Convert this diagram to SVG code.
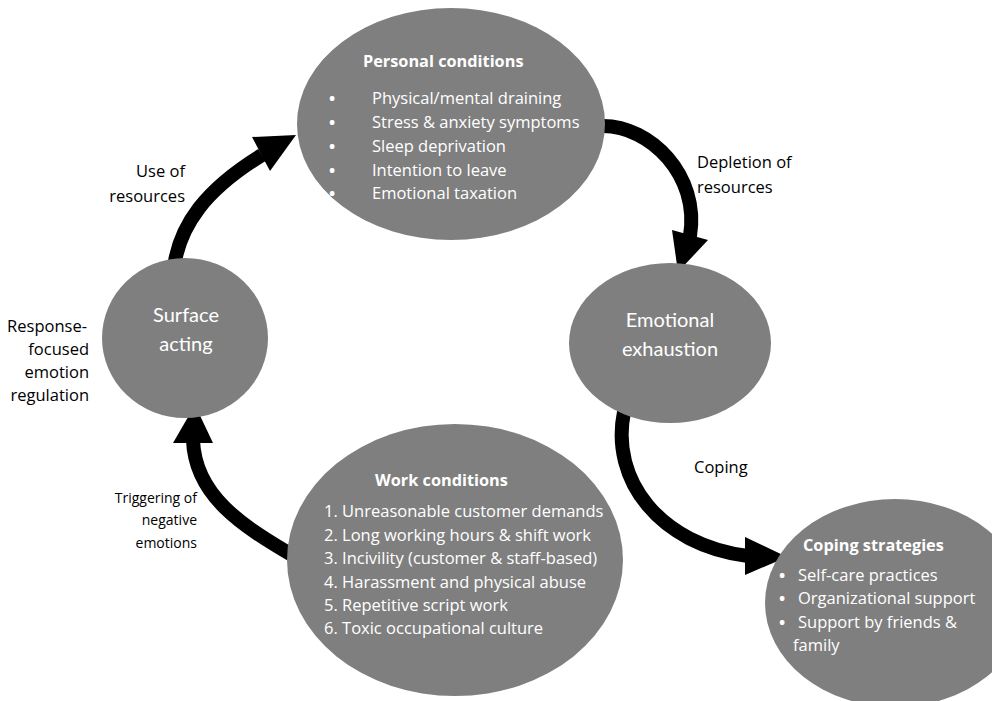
<svg xmlns="http://www.w3.org/2000/svg" width="992" height="701" viewBox="0 0 992 701">
<style>
.node{fill:#7f7f7f}
.w{fill:#ffffff;font-family:"Open Sans","Noto Sans",sans-serif;font-size:16.5px}
.b{font-weight:bold;text-anchor:middle}
.wt{fill:#ffffff;font-family:"Open Sans","Noto Sans",sans-serif;font-size:16.3px;font-weight:bold}
.c{fill:#ffffff;font-family:Lato,"Open Sans",sans-serif;font-size:20px;text-anchor:middle}
.lbl{fill:#000000;font-family:"Open Sans","Noto Sans",sans-serif;font-size:16.5px}
.sm{fill:#000000;font-family:"Open Sans","Noto Sans",sans-serif;font-size:14px}
.shaft{fill:none;stroke:#000;stroke-width:14}
.head{fill:#000}
</style>
<rect width="992" height="701" fill="#ffffff"/>
<g id="connectors">
  <g id="use-of-resources">
    <path class="shaft" d="M174,267 C180,225 205,190 262,155"/>
    <polygon class="head" points="252,137 296,135 270,171"/>
  </g>
  <g id="depletion">
    <path class="shaft" d="M603,126 C650,126 700,175 690,236"/>
    <polygon class="head" points="672,230 708,240 678,272"/>
  </g>
  <g id="coping">
    <path class="shaft" d="M624,412 C610,480 660,545 748,556"/>
    <polygon class="head" points="745,537 787,557 745,575"/>
  </g>
  <g id="triggering">
    <path class="shaft" d="M297,558 C240,525 195,495 193,440"/>
    <polygon class="head" points="173,443 213,443 195,405"/>
  </g>
</g>
<g id="personal-conditions">
  <ellipse class="node" cx="451" cy="124" rx="154" ry="116"/>
  <text class="wt" x="363" y="67">Personal conditions</text>
  <g class="w">
    <text class="b" x="332" y="104">•</text>
    <text class="b" x="332" y="128">•</text>
    <text class="b" x="332" y="152">•</text>
    <text class="b" x="332" y="176">•</text>
    <text class="b" x="332" y="199">•</text>
    <text x="372" y="104">Physical/mental draining</text>
    <text x="372" y="128">Stress &amp; anxiety symptoms</text>
    <text x="372" y="152">Sleep deprivation</text>
    <text x="372" y="176">Intention to leave</text>
    <text x="372" y="199">Emotional taxation</text>
  </g>
</g>
<g id="surface-acting">
  <ellipse class="node" cx="185" cy="338" rx="83" ry="80"/>
  <text class="c" x="186" y="322">Surface</text>
  <text class="c" x="186" y="351">acting</text>
</g>
<g id="emotional-exhaustion">
  <ellipse class="node" cx="670" cy="343" rx="101" ry="80"/>
  <text class="c" x="670" y="327">Emotional</text>
  <text class="c" x="670" y="356">exhaustion</text>
</g>
<g id="work-conditions">
  <ellipse class="node" cx="455" cy="560" rx="168" ry="136"/>
  <text class="wt" x="375" y="486">Work conditions</text>
  <g class="w">
    <text x="324" y="517">1. Unreasonable customer demands</text>
    <text x="324" y="541">2. Long working hours &amp; shift work</text>
    <text x="324" y="564">3. Incivility (customer &amp; staff-based)</text>
    <text x="324" y="588">4. Harassment and physical abuse</text>
    <text x="324" y="611">5. Repetitive script work</text>
    <text x="324" y="634">6. Toxic occupational culture</text>
  </g>
</g>
<g id="coping-strategies">
  <ellipse class="node" cx="895" cy="603" rx="130" ry="104"/>
  <text class="wt" x="803" y="551">Coping strategies</text>
  <g class="w">
    <text class="b" x="782" y="581">•</text>
    <text class="b" x="782" y="604">•</text>
    <text class="b" x="782" y="628">•</text>
    <text x="798" y="581">Self-care practices</text>
    <text x="798" y="604">Organizational support</text>
    <text x="798" y="628">Support by friends &amp;</text>
    <text x="793" y="651">family</text>
  </g>
</g>
<g id="labels">
  <text class="lbl" x="185" y="177" text-anchor="end">Use of</text>
  <text class="lbl" x="185" y="202" text-anchor="end">resources</text>
  <text class="lbl" x="697" y="168">Depletion of</text>
  <text class="lbl" x="697" y="193">resources</text>
  <text class="lbl" x="694" y="473">Coping</text>
  <text class="lbl" x="87" y="332" text-anchor="end">Response-</text>
  <text class="lbl" x="89" y="355" text-anchor="end">focused</text>
  <text class="lbl" x="89" y="378" text-anchor="end">emotion</text>
  <text class="lbl" x="89" y="401" text-anchor="end">regulation</text>
  <text class="sm" x="197" y="503" text-anchor="end">Triggering of</text>
  <text class="sm" x="197" y="525" text-anchor="end">negative</text>
  <text class="sm" x="197" y="548" text-anchor="end">emotions</text>
</g>
</svg>
